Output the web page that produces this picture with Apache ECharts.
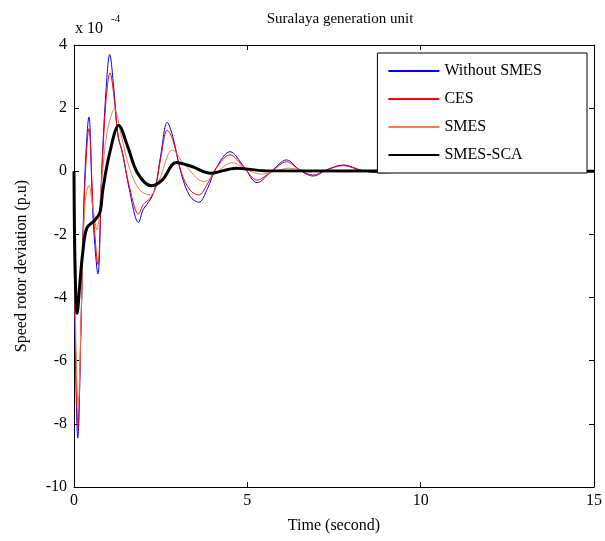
<!DOCTYPE html>
<html>
<head>
<meta charset="utf-8">
<script src="https://cdn.jsdelivr.net/npm/echarts@6/dist/echarts.min.js"></script>
<style>
  html, body { margin: 0; padding: 0; background: #fff; }
  #main { width: 605px; height: 541px; }
</style>
</head>
<body>
<div id="main"></div>
<script>
// values in units of 1e-4 p.u, time in seconds
var seriesNames = ['Without SMES', 'CES', 'SMES', 'SMES-SCA'];

var withoutSmes = [[0,0],[0.03,-5],[0.11,-8.45],[0.2,-5],[0.3,-0.5],[0.43,1.72],[0.55,-1.5],[0.69,-3.25],
  [0.8,0],[0.92,2.5],[1.03,3.7],[1.15,2.6],[1.27,1.1],[1.4,0.6],[1.6,-0.6],[1.86,-1.62],[2.0,-1.2],
  [2.2,-0.9],[2.35,-0.5],[2.5,0.5],[2.69,1.55],[2.85,1.1],[3.1,-0.1],[3.35,-0.8],[3.6,-0.98],[3.85,-0.55],
  [4.1,0.1],[4.5,0.62],[4.9,0.15],[5.28,-0.36],[5.7,0.0],[6.13,0.36],[6.5,0.05],[6.9,-0.15],[7.3,0.05],
  [7.77,0.2],[8.3,0.03],[8.9,-0.05],[10,0],[15,0]];

var ces = [[0,0],[0.03,-4.5],[0.12,-8.15],[0.2,-5],[0.3,-0.8],[0.43,1.35],[0.56,-1.3],[0.69,-2.95],
  [0.8,-0.2],[0.92,2.2],[1.04,3.12],[1.15,2.4],[1.27,1.15],[1.4,0.55],[1.6,-0.5],[1.86,-1.35],[2.0,-1.05],
  [2.2,-0.85],[2.35,-0.5],[2.5,0.4],[2.69,1.3],[2.85,1.0],[3.1,-0.05],[3.35,-0.6],[3.6,-0.75],[3.85,-0.4],
  [4.1,0.1],[4.5,0.52],[4.9,0.12],[5.28,-0.28],[5.7,0.0],[6.13,0.3],[6.5,0.05],[6.9,-0.12],[7.3,0.05],
  [7.77,0.18],[8.3,0.02],[8.9,-0.04],[10,0],[15,0]];

var smes = [[0,0],[0.03,-4],[0.12,-7.4],[0.22,-4],[0.32,-1.0],[0.43,-0.45],[0.55,-1.2],[0.66,-1.85],
  [0.8,-0.3],[0.95,1.2],[1.17,1.97],[1.35,1.2],[1.6,0.1],[1.9,-0.6],[2.2,-0.75],[2.45,-0.3],[2.84,0.67],
  [3.2,0.2],[3.75,-0.33],[4.1,-0.05],[4.56,0.27],[5.0,0.05],[5.4,-0.09],[5.8,0.0],[6.2,0.1],[6.8,0],[15,0]];

var smesSca = [[0,0],[0.03,-3],[0.09,-4.5],[0.18,-3.4],[0.26,-2.5],[0.37,-1.8],[0.6,-1.55],[0.75,-1.3],
  [0.83,-0.6],[1.03,0.58],[1.29,1.45],[1.55,0.78],[1.83,-0.05],[2.23,-0.46],[2.55,-0.27],[2.95,0.28],
  [3.4,0.15],[3.95,-0.06],[4.67,0.1],[5.5,0.02],[15,0]];

var font = 'Liberation Serif';

var chart = echarts.init(document.getElementById('main'));

function axisCommon(extra) {
  var a = {
    type: 'value',
    axisLine: { show: true, onZero: false, lineStyle: { color: '#000', width: 1 } },
    axisTick: { show: true, inside: true, length: 5, lineStyle: { color: '#000' } },
    splitLine: { show: false },
    axisLabel: { color: '#000', fontFamily: font, fontSize: 16 }
  };
  return Object.assign(a, extra);
}

var option = {
  animation: false,
  backgroundColor: '#fff',
  title: {
    text: 'Suralaya generation unit',
    left: 335, textAlign: 'center', top: 7,
    textStyle: { fontFamily: font, fontSize: 15, fontWeight: 'normal', color: '#000' }
  },
  grid: { left: 74, right: 8, top: 45, bottom: 54 },
  legend: {
    orient: 'vertical',
    right: 18, top: 53,
    padding: [10, 45, 10, 10],
    itemGap: 12,
    itemWidth: 51, itemHeight: 14,
    backgroundColor: '#fff',
    borderColor: '#000', borderWidth: 1,
    itemStyle: { opacity: 0 },
    textStyle: { fontFamily: font, fontSize: 16, color: '#000' },
    data: seriesNames
  },
  xAxis: [
    axisCommon({ min: 0, max: 15, interval: 5, position: 'bottom',
      name: 'Time (second)', nameLocation: 'middle', nameGap: 31,
      nameTextStyle: { fontFamily: font, fontSize: 16, color: '#000' },
      axisLabel: { color: '#000', fontFamily: font, fontSize: 16, margin: 6 } }),
    axisCommon({ min: 0, max: 15, interval: 5, position: 'top', axisLabel: { show: false } })
  ],
  yAxis: [
    axisCommon({ min: -10, max: 4, interval: 2, position: 'left',
      name: 'Speed rotor deviation (p.u)', nameLocation: 'middle', nameGap: 44,
      nameTextStyle: { fontFamily: font, fontSize: 16, color: '#000' },
      axisLabel: { color: '#000', fontFamily: font, fontSize: 16, margin: 7 } }),
    axisCommon({ min: -10, max: 4, interval: 2, position: 'right', axisLabel: { show: false } })
  ],
  graphic: [
    { type: 'text', left: 75, top: 21,
      style: { text: 'x 10', font: '16px "Liberation Serif"', fill: '#000' } },
    { type: 'text', left: 111, top: 14,
      style: { text: '-4', font: '11px "Liberation Serif"', fill: '#000' } }
  ],
  series: [
    { name: seriesNames[0], type: 'line', data: withoutSmes, symbol: 'none', smooth: 0.35,
      lineStyle: { color: '#0000ff', width: 1 }, itemStyle: { color: '#0000ff' } },
    { name: seriesNames[1], type: 'line', data: ces, symbol: 'none', smooth: 0.35,
      lineStyle: { color: '#ff0000', width: 1 }, itemStyle: { color: '#ff0000' } },
    { name: seriesNames[2], type: 'line', data: smes, symbol: 'none', smooth: 0.35,
      lineStyle: { color: '#ee8050', width: 1 }, itemStyle: { color: '#ee8050' } },
    { name: seriesNames[3], type: 'line', data: smesSca, symbol: 'none', smooth: 0.35,
      lineStyle: { color: '#000', width: 3 }, itemStyle: { color: '#000' } }
  ]
};

chart.setOption(option);
</script>
</body>
</html>
